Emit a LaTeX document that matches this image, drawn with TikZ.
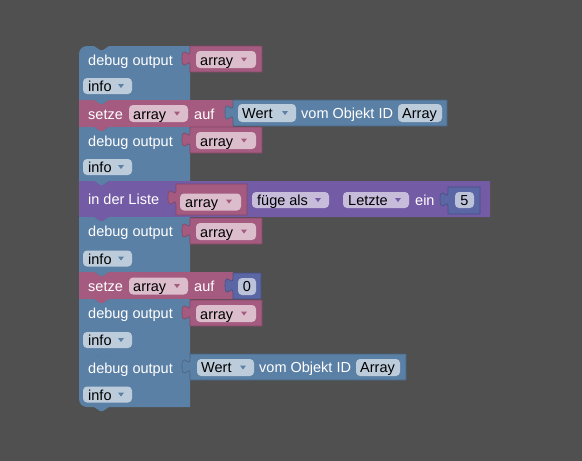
\documentclass[tikz,border=0pt]{standalone}
\usepackage{fontspec}
\setmainfont{Liberation Sans}
\definecolor{bg}{HTML}{505050}
\definecolor{bl}{HTML}{5B80A5}
\definecolor{pk}{HTML}{A55B80}
\definecolor{pu}{HTML}{745BA5}
\definecolor{nm}{HTML}{5B67A5}
\definecolor{blF}{HTML}{BDCCDB}
\definecolor{pkF}{HTML}{DBBDCC}
\definecolor{puF}{HTML}{C7BDDB}
\definecolor{nmF}{HTML}{BDC2DB}
\newcommand{\stmtshape}[5]{%
  \fill[#1] (#2,#3) -- ({#2+15},#3) -- ({#2+21},{#3+4}) -- ({#2+24},{#3+4}) -- ({#2+30},#3) -- (#4,#3) -- (#4,#5) -- ({#2+30},#5) -- ({#2+24},{#5+4}) -- ({#2+21},{#5+4}) -- ({#2+15},#5) -- (#2,#5) -- cycle;}
\newcommand{\valshape}[6]{%
  \filldraw[fill=#1, draw=#1!78!black, line width=0.6pt] (#2,#3) -- (#4,#3) -- (#4,#5) -- (#2,#5) -- (#2,{#3+#6+15}) .. controls (#2,{#3+#6+5}) and ({#2-8},{#3+#6+23}) .. ({#2-8},{#3+#6+7.5}) .. controls ({#2-8},{#3+#6-8}) and (#2,{#3+#6+10}) .. (#2,{#3+#6}) -- cycle;}
\newcommand{\fieldbox}[5]{\fill[#1, rounded corners=4pt] (#2,#3) rectangle (#4,#5);}
\newcommand{\ddarrow}[3]{\fill[#1] ({#2-3},{#3-2}) -- ({#2+3},{#3-2}) -- (#2,{#3+2}) -- cycle;}
\tikzset{
  lbl/.style={inner sep=0pt, text=white, anchor=base west, font=\fontsize{14.5}{17}\selectfont},
  ftxt/.style={inner sep=0pt, text=black, anchor=base west, font=\fontsize{14.5}{17}\selectfont},
}
\begin{document}
\begin{tikzpicture}[x=1pt, y=-1pt]
\useasboundingbox (0,0) rectangle (582,461);
\fill[bg] (0,0) rectangle (582,461);

% ---- A: debug output
\fill[bl] (79,100) -- (79,54) .. controls (79,49.6) and (82.6,46) .. (87,46) -- (94,46) -- (100,50) -- (103,50) -- (109,46) -- (190,46) -- (190,100) -- (109,100) -- (103,104) -- (100,104) -- (94,100) -- cycle;
\node[lbl] (a1) at (88,65) {debug output};
\fieldbox{blF}{83}{78}{132}{94}
\node[ftxt] (a2) at (88,91.5) {info};
\ddarrow{bl}{121}{86}
\valshape{pk}{190}{46}{262}{72}{5}
\fieldbox{pkF}{196}{51}{256}{68}
\node[ftxt] (a3) at (200,65) {array};
\ddarrow{pk}{244}{59.5}

% ---- B: setze
\stmtshape{pk}{79}{100}{233}{127}
\node[lbl] (b1) at (88,119) {setze};
\fieldbox{pkF}{129}{105}{188}{122}
\node[ftxt] (b2) at (133,119) {array};
\ddarrow{pk}{177}{113.5}
\node[lbl] (b3) at (194,119) {auf};
\valshape{bl}{233}{100}{447}{126}{5}
\fieldbox{blF}{238}{104}{296}{122}
\node[ftxt] (b4) at (242,118.5) {Wert};
\ddarrow{bl}{285}{113}
\node[lbl] (b5) at (301,118.5) {vom Objekt ID};
\fieldbox{blF}{398}{104}{442}{122}
\node[ftxt] (b6) at (402,118.5) {Array};

% ---- C: debug output
\stmtshape{bl}{79}{127}{190}{181}
\node[lbl] (c1) at (88,146) {debug output};
\valshape{pk}{190}{127}{262}{153}{5}
\fieldbox{pkF}{196}{132}{256}{149}
\node[ftxt] (c2) at (200,146) {array};
\ddarrow{pk}{244}{140.5}
\fieldbox{blF}{83}{159}{132}{175}
\node[ftxt] (c3) at (88,172.5) {info};
\ddarrow{bl}{121}{167}

% ---- D: in der Liste
\stmtshape{pu}{79}{181}{490}{217}
\node[lbl] (d1) at (88,204.5) {in der Liste};
\valshape{pk}{176}{184}{247}{215}{6}
\fieldbox{pkF}{180}{193.5}{241}{210.5}
\node[ftxt] (d2) at (185,207.5) {array};
\ddarrow{pk}{229}{201.5}
\fieldbox{puF}{252}{192}{329}{208}
\node[ftxt] (d3) at (257,205.5) {füge als};
\ddarrow{pu}{318}{200}
\fieldbox{puF}{343}{192}{409}{208}
\node[ftxt] (d4) at (348,205.5) {Letzte};
\ddarrow{pu}{398}{200}
\node[lbl] (d5) at (415,205.5) {ein};
\valshape{nm}{448}{187}{480}{214}{5}
\fieldbox{nmF}{455}{192}{474}{208}
\node[ftxt, anchor=base] (d6) at (464.5,205.5) {5};

% ---- E: debug output
\stmtshape{bl}{79}{217}{190}{272}
\node[lbl] (e1) at (88,236.5) {debug output};
\valshape{pk}{190}{218}{262}{244}{5}
\fieldbox{pkF}{196}{223}{256}{240}
\node[ftxt] (e2) at (200,237) {array};
\ddarrow{pk}{244}{231.5}
\fieldbox{blF}{83}{250.5}{132}{266.5}
\node[ftxt] (e3) at (88,264) {info};
\ddarrow{bl}{121}{258.5}

% ---- F: setze
\stmtshape{pk}{79}{272}{233}{299}
\node[lbl] (f1) at (88,291.5) {setze};
\fieldbox{pkF}{129}{277.5}{188}{294.5}
\node[ftxt] (f2) at (133,291.5) {array};
\ddarrow{pk}{177}{286}
\node[lbl] (f3) at (194,291.5) {auf};
\valshape{nm}{233}{273}{261}{299}{5}
\fieldbox{nmF}{238}{278}{256}{295}
\node[ftxt, anchor=base] (f4) at (247,291.5) {0};

% ---- G: debug output
\stmtshape{bl}{79}{299}{190}{354}
\node[lbl] (g1) at (88,318.5) {debug output};
\valshape{pk}{190}{300}{262}{326}{5}
\fieldbox{pkF}{196}{305}{256}{322}
\node[ftxt] (g2) at (200,319) {array};
\ddarrow{pk}{244}{313.5}
\fieldbox{blF}{83}{332}{132}{348}
\node[ftxt] (g3) at (88,345.5) {info};
\ddarrow{bl}{121}{340}

% ---- H: debug output
\fill[bl] (79,354) -- (94,354) -- (100,358) -- (103,358) -- (109,354) -- (190,354) -- (190,407) -- (109,407) -- (103,411) -- (100,411) -- (94,407) -- (87,407) .. controls (82.6,407) and (79,403.4) .. (79,399) -- cycle;
\node[lbl] (h1) at (88,373) {debug output};
\valshape{bl}{190}{354}{406}{380}{5}
\fieldbox{blF}{197}{359}{254}{376}
\node[ftxt] (h2) at (201,372.5) {Wert};
\ddarrow{bl}{243}{367.5}
\node[lbl] (h3) at (259,372.5) {vom Objekt ID};
\fieldbox{blF}{356}{359}{400}{376}
\node[ftxt] (h4) at (360,372.5) {Array};
\fieldbox{blF}{83}{386.5}{132}{402.5}
\node[ftxt] (h5) at (88,400) {info};
\ddarrow{bl}{121}{394.5}
\end{tikzpicture}
\end{document}
